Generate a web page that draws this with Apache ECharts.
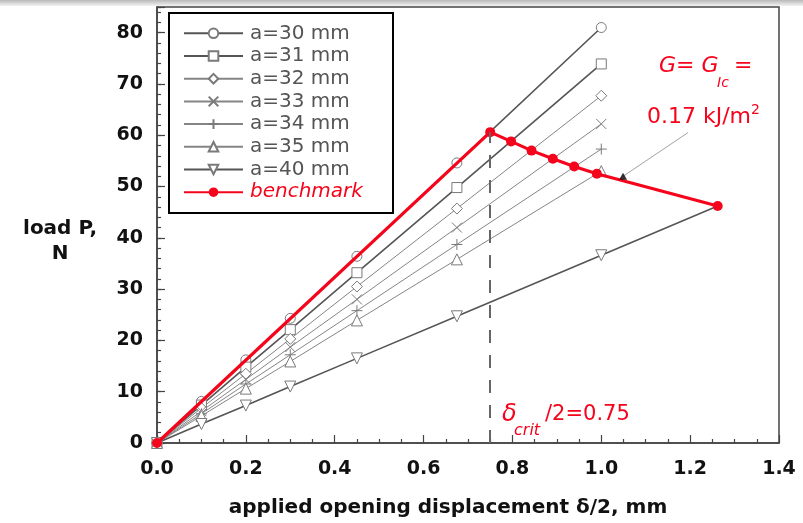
<!DOCTYPE html>
<html>
<head>
<meta charset="utf-8">
<script src="https://cdn.jsdelivr.net/npm/echarts@6/dist/echarts.min.js"></script>
<style>
  html, body { margin: 0; padding: 0; background: #fff; }
  #chart { width: 803px; height: 523px; }
</style>
</head>
<body>
<div id="chart"></div>
<script>
// Applied opening displacement (delta/2, mm) at which each crack length was evaluated
const displacement = [0, 0.1, 0.2, 0.3, 0.45, 0.675, 1.0];

// Load P (N) for each crack length a
const loadA30 = [0, 8.1, 16.2, 24.3, 36.4, 54.6, 81.0];
const loadA31 = [0, 7.4, 14.8, 22.1, 33.2, 49.8, 73.9];
const loadA32 = [0, 6.8, 13.5, 20.3, 30.5, 45.7, 67.7];
const loadA33 = [0, 6.2, 12.4, 18.7, 28.0, 42.0, 62.2];
const loadA34 = [0, 5.7, 11.5, 17.2, 25.8, 38.7, 57.3];
const loadA35 = [0, 5.3, 10.6, 15.9, 23.9, 35.8, 53.0];
const loadA40 = [0, 3.7, 7.3, 11.0, 16.5, 24.7, 36.6];
// a = 40 mm line continued up to the last benchmark point
const a40TailX = 1.262;
const a40TailY = 46.2;

// Benchmark load-displacement path
const benchmarkX = [0, 0.75, 0.797, 0.843, 0.891, 0.939, 0.990, 1.262];
const benchmarkY = [0, 60.6, 58.8, 57.0, 55.4, 53.9, 52.5, 46.2];

// Critical displacement marker
const deltaCrit = 0.75;
const loadCrit = 60.6;

// Leader line from the G = G_Ic note to the benchmark curve
const leaderX = [1.195, 1.049];
const leaderY = [60.5, 52.0];

const xTickValues = [0, 0.2, 0.4, 0.6, 0.8, 1.0, 1.2, 1.4];
const yTickValues = [0, 10, 20, 30, 40, 50, 60, 70, 80];

const RED = '#f5051c';
const FONT = 'DejaVu Sans';

const crackSeries = [
  { name: 'a=30 mm', load: loadA30, symbol: 'circle', size: 10, line: '#555', width: 1.6 },
  { name: 'a=31 mm', load: loadA31, symbol: 'rect', size: 10, line: '#555', width: 1.6 },
  { name: 'a=32 mm', load: loadA32, symbol: 'diamond', size: 11, line: '#858585', width: 1 },
  { name: 'a=33 mm', load: loadA33, symbol: 'path://M0,0L10,10M10,0L0,10', size: 10, line: '#858585', width: 1 },
  { name: 'a=34 mm', load: loadA34, symbol: 'path://M5,0L5,10M0,5L10,5', size: 11, line: '#858585', width: 1 },
  { name: 'a=35 mm', load: loadA35, symbol: 'triangle', size: 11, line: '#858585', width: 1 },
  { name: 'a=40 mm', load: loadA40, symbol: 'triangle', size: 11, rotate: 180, line: '#555', width: 1.6 }
];

const series = crackSeries.map(function (s) {
  const data = displacement.map(function (x, i) { return [x, s.load[i]]; });
  if (s.name === 'a=40 mm') {
    data.push({ value: [a40TailX, a40TailY], symbol: 'none' });
  }
  return {
    name: s.name,
    type: 'line',
    data: data,
    symbol: s.symbol,
    symbolSize: s.size,
    symbolRotate: s.rotate || 0,
    showAllSymbol: true,
    z: 2,
    lineStyle: { color: s.line, width: s.width },
    itemStyle: { color: '#fff', borderColor: '#7a7a7a', borderWidth: 1 },
    emphasis: { disabled: true }
  };
});

series.push({
  name: 'benchmark',
  type: 'line',
  data: benchmarkX.map(function (x, i) { return [x, benchmarkY[i]]; }),
  symbol: 'circle',
  symbolSize: 10,
  z: 4,
  lineStyle: { color: RED, width: 3.2 },
  itemStyle: { color: RED, borderColor: RED, borderWidth: 0 },
  emphasis: { disabled: true },
  markLine: {
    silent: true,
    symbol: ['none', 'none'],
    label: { show: false },
    lineStyle: { color: '#666', width: 2, type: [13, 12] },
    data: [[{ coord: [deltaCrit, 0] }, { coord: [deltaCrit, loadCrit] }]]
  }
});

series.push({
  name: 'leader',
  type: 'line',
  data: leaderX.map(function (x, i) { return [x, leaderY[i]]; }),
  symbol: 'none',
  z: 3,
  silent: true,
  lineStyle: { color: '#8a8a8a', width: 0.8 }
});

series.push({
  name: 'leader tip',
  type: 'scatter',
  data: [[leaderX[1], leaderY[1]]],
  symbol: 'triangle',
  symbolSize: [8, 7],
  z: 5,
  silent: true,
  itemStyle: { color: '#000' }
});

const chart = echarts.init(document.getElementById('chart'), null, { renderer: 'canvas' });

chart.setOption({
  animation: false,
  backgroundColor: '#fff',
  grid: {
    left: 157, right: 24, top: 7, bottom: 79,
    show: true, borderColor: '#444', borderWidth: 1.5, backgroundColor: 'transparent'
  },
  xAxis: {
    type: 'value',
    min: xTickValues[0],
    max: xTickValues[xTickValues.length - 1],
    interval: 0.2,
    axisLine: { lineStyle: { color: '#444', width: 1.5 } },
    axisTick: { inside: true, length: 8, lineStyle: { color: '#444', width: 1.2 } },
    minorTick: { show: true, splitNumber: 4, length: 4, lineStyle: { color: '#444', width: 1.2 } },
    splitLine: { show: false },
    axisLabel: {
      margin: 17, color: '#111', fontFamily: FONT, fontWeight: 'bold', fontSize: 19,
      formatter: function (v) { return v.toFixed(1); }
    },
    name: 'applied opening displacement \u03b4/2, mm',
    nameLocation: 'middle',
    nameGap: 55,
    nameTextStyle: {
      color: '#111', fontFamily: FONT, fontWeight: 'bold', fontSize: 20,
      padding: [0, 40, 0, 0]
    }
  },
  yAxis: [
    {
      type: 'value',
      min: 0, max: 85, interval: 10,
      axisLine: { lineStyle: { color: '#444', width: 1.5 } },
      axisTick: { inside: true, length: 8, lineStyle: { color: '#444', width: 1.2 } },
      splitLine: { show: false },
      axisLabel: {
        margin: 14, color: '#111', fontFamily: FONT, fontWeight: 'bold', fontSize: 19,
        formatter: function (v) { return yTickValues.indexOf(v) >= 0 ? String(v) : ''; }
      }
    },
    {
      type: 'value',
      position: 'left',
      min: 0, max: 85, interval: 2,
      axisLine: { show: false },
      axisTick: { inside: true, length: 4, lineStyle: { color: '#444', width: 1.2 } },
      splitLine: { show: false },
      axisLabel: { show: false }
    }
  ],
  legend: {
    orient: 'vertical',
    left: 169, top: 12.7,
    selectedMode: false,
    itemWidth: 59, itemHeight: 12, itemGap: 0.7,
    padding: [9.6, 8, 9, 14],
    textStyle: { fontFamily: FONT, fontSize: 20, color: '#555', lineHeight: 22, padding: [0, 0, 0, 2] },
    data: [
      'a=30 mm', 'a=31 mm', 'a=32 mm', 'a=33 mm', 'a=34 mm', 'a=35 mm', 'a=40 mm',
      { name: 'benchmark', textStyle: { color: RED, fontStyle: 'italic' } }
    ]
  },
  graphic: [
    // soft grey band along the top edge
    {
      type: 'rect', z: 10, silent: true,
      shape: { x: 0, y: 0, width: 803, height: 6 },
      style: {
        fill: new echarts.graphic.LinearGradient(0, 0, 0, 1, [
          { offset: 0, color: '#b9b9b9' }, { offset: 1, color: '#f3f3f3' }
        ])
      }
    },
    // legend frame
    {
      type: 'rect', z: 3, silent: true,
      shape: { x: 169, y: 13, width: 224, height: 200 },
      style: { fill: '#fff', stroke: '#000', lineWidth: 2 }
    },
    // y axis title
    {
      type: 'text', z: 10, silent: true,
      style: {
        x: 60, y: 241.5, text: 'load P,\nN', textAlign: 'center', textVerticalAlign: 'middle',
        font: 'bold 20px "DejaVu Sans"', fill: '#111', lineHeight: 25
      }
    },
    // critical displacement note
    {
      type: 'text', z: 10, silent: true,
      style: { x: 502, y: 415, text: '\u03b4', textVerticalAlign: 'middle', font: 'italic 24px "DejaVu Sans"', fill: RED }
    },
    {
      type: 'text', z: 10, silent: true,
      style: { x: 514, y: 431, text: 'crit', textVerticalAlign: 'middle', font: 'italic 16px "DejaVu Sans"', fill: RED }
    },
    {
      type: 'text', z: 10, silent: true,
      style: { x: 545, y: 415, text: '/2=0.75', textVerticalAlign: 'middle', font: '21px "DejaVu Sans"', fill: RED }
    },
    // energy release rate note
    {
      type: 'text', z: 10, silent: true,
      style: { x: 659, y: 66, text: 'G= G', textVerticalAlign: 'middle', font: 'italic 22px "DejaVu Sans"', fill: RED }
    },
    {
      type: 'text', z: 10, silent: true,
      style: { x: 717, y: 83, text: 'Ic', textVerticalAlign: 'middle', font: 'italic 14px "DejaVu Sans"', fill: RED }
    },
    {
      type: 'text', z: 10, silent: true,
      style: { x: 734, y: 66, text: '=', textVerticalAlign: 'middle', font: '22px "DejaVu Sans"', fill: RED }
    },
    {
      type: 'text', z: 10, silent: true,
      style: { x: 647, y: 117, text: '0.17 kJ/m', textVerticalAlign: 'middle', font: '22px "DejaVu Sans"', fill: RED }
    },
    {
      type: 'text', z: 10, silent: true,
      style: { x: 751, y: 110, text: '2', textVerticalAlign: 'middle', font: '14px "DejaVu Sans"', fill: RED }
    }
  ],
  series: series
});
</script>
</body>
</html>
